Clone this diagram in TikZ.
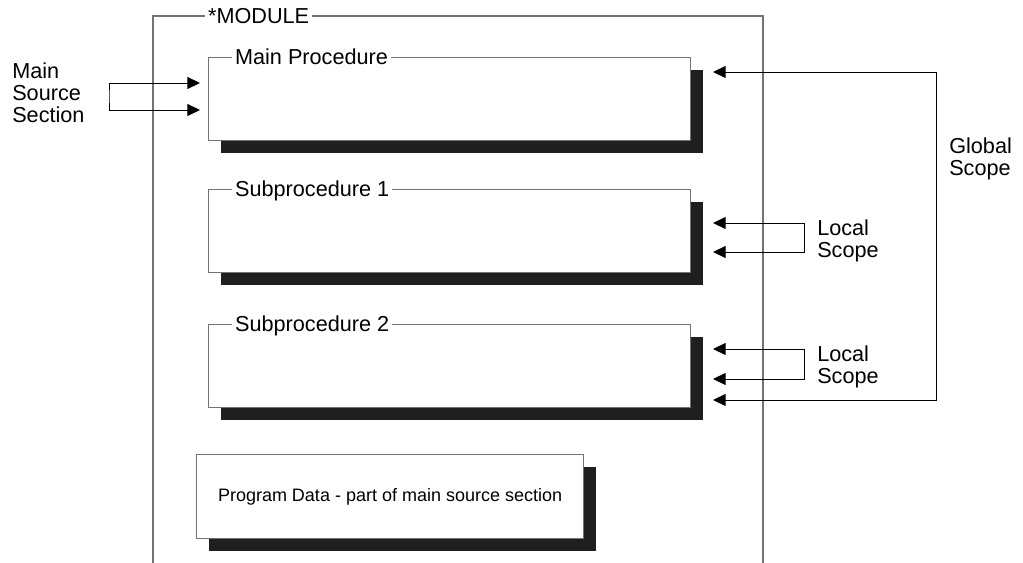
\documentclass[tikz,border=0pt]{standalone}
\usepackage{fontspec}
\setmainfont{Liberation Sans}
\usetikzlibrary{arrows.meta,shadows}
\def\px{0.025cm}

\begin{document}
\begin{tikzpicture}[x=\px,y=-\px,>={Triangle[length=9pt,width=8.5pt]},
    font=\fontsize{15.4}{15.6}\selectfont]
      \tikzstyle{frame}=[draw=black!55,line width=0.8pt]
      \tikzstyle{procbox}=[frame,fill=white,minimum width=482*\px,minimum height=83*\px,
          inner sep=0pt,anchor=north west,
          drop shadow={shadow xshift=0.3cm,shadow yshift=-0.3cm,fill=black!88,opacity=1}]
      \tikzstyle{boxlabel}=[fill=white,inner xsep=2pt,inner ysep=1pt,anchor=base west,yshift=-5.2pt]
      \tikzstyle{link}=[<->,draw=black,line width=0.7pt]
      \tikzstyle{annot}=[anchor=north west,align=left,inner sep=0pt]

      \useasboundingbox (0,0) rectangle (1023,563);

      % Draw the module frame
      \coordinate (mod-bl) at (153,563);
      \coordinate (mod-tr) at (763,16);
      \coordinate (mod-br) at (763,563);
      \draw[frame] (mod-bl) |- (mod-tr) -- (mod-br);
      \node[boxlabel] (mod-lbl) at (205,16) {*MODULE};

      % Draw the procedure boxes
      \foreach \name / \y / \title in {main/57/Main Procedure,sub1/189/Subprocedure 1,sub2/324/Subprocedure 2}
      {
          \node[procbox] (\name) at (208,\y) {};
          \node[boxlabel,xshift=0.6cm] (\name-lbl) at (\name.north west) {\title};
      }

      % Draw the program data box
      \node[procbox,minimum width=387*\px,minimum height=84*\px,font=\fontsize{12.8}{15}\selectfont]
          (data) at (196,454) {Program Data - part of main source section};

      % Arrow end points
      \coordinate (ms-in1) at (200,83);
      \coordinate (ms-in2) at (200,110);
      \coordinate (ms-brk) at (109,96);
      \coordinate (gl-in1) at (713,72);
      \coordinate (gl-in2) at (713,400);
      \coordinate (gl-brk) at (936,236);
      \coordinate (l1-in1) at (713,223);
      \coordinate (l1-in2) at (713,252);
      \coordinate (l1-brk) at (804,237);
      \coordinate (l2-in1) at (713,349);
      \coordinate (l2-in2) at (713,379);
      \coordinate (l2-brk) at (804,364);

      % Connect the scopes with the boxes
      \draw[link] (ms-in1) -| (ms-brk) |- (ms-in2);
      \draw[link] (gl-in1) -| (gl-brk) |- (gl-in2);
      \foreach \s in {l1,l2}
          \draw[link] (\s-in1) -| (\s-brk) |- (\s-in2);

      % Annotate the scopes
      \node[annot] (ms-txt) at (12,63) {Main\\Source\\Section};
      \node[annot] (gl-txt) at (949,138) {Global\\Scope};
      \node[annot] (l1-txt) at (817,220) {Local\\Scope};
      \node[annot] (l2-txt) at (817,346) {Local\\Scope};
  \end{tikzpicture}
\end{document}
